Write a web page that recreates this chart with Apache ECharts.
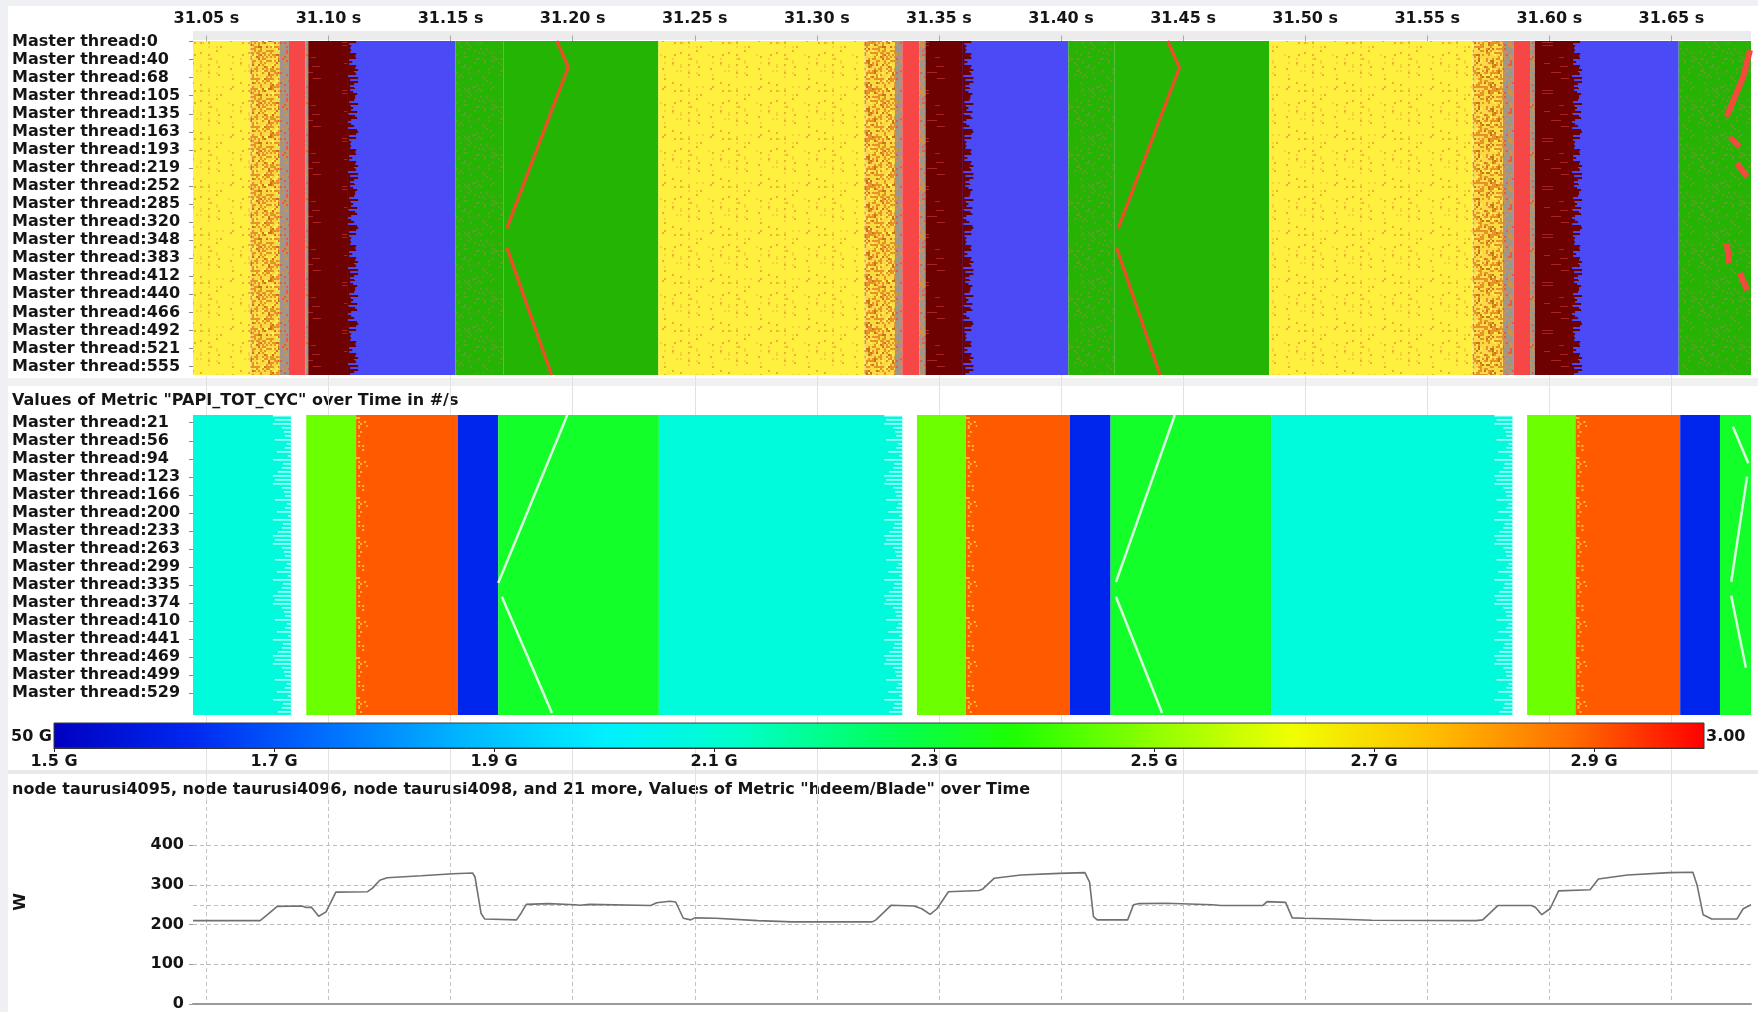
<!DOCTYPE html>
<html><head><meta charset="utf-8">
<script src="https://cdn.jsdelivr.net/npm/echarts@6/dist/echarts.min.js"></script>
<style>html,body{margin:0;padding:0;background:#fff}#c{width:1758px;height:1012px}</style>
</head><body><div id="c"></div>
<script>
// ================= DATA =================
const timeTicks = [31.05, 31.10, 31.15, 31.20, 31.25, 31.30, 31.35, 31.40, 31.45, 31.50, 31.55, 31.60, 31.65];
const timeRange = [31.0445, 31.6826];
const topThreadLabels = [0, 40, 68, 105, 135, 163, 193, 219, 252, 285, 320, 348, 383, 412, 440, 466, 492, 521, 555];
const metricThreadLabels = [21, 56, 94, 123, 166, 200, 233, 263, 299, 335, 374, 410, 441, 469, 499, 529];
const colorbarTicks = [1.5, 1.7, 1.9, 2.1, 2.3, 2.5, 2.7, 2.9];
const colorbarRange = [1.5, 3.0];
const powerTicks = [0, 100, 200, 300, 400];
const powerGuides = [100, 200, 250, 300, 400];

// master timeline: [start s, end s, function group]
const functionSpans = [
  [31.0437, 31.0680, 'Y'], [31.0680, 31.0800, 'YO'], [31.0800, 31.0838, 'GR'], [31.0838, 31.0905, 'R'],
  [31.0905, 31.0917, 'GR'], [31.0917, 31.1097, 'M'], [31.1097, 31.1520, 'B'], [31.1520, 31.1716, 'GS'],
  [31.1716, 31.2351, 'G'],
  [31.2351, 31.3195, 'Y'], [31.3195, 31.3320, 'YO'], [31.3320, 31.3350, 'GR'], [31.3350, 31.3420, 'R'],
  [31.3420, 31.3445, 'GR'], [31.3445, 31.3617, 'M'], [31.3617, 31.4030, 'B'], [31.4030, 31.4220, 'GS'],
  [31.4220, 31.4852, 'G'],
  [31.4852, 31.5686, 'Y'], [31.5686, 31.5810, 'YO'], [31.5810, 31.5855, 'GR'], [31.5855, 31.5921, 'R'],
  [31.5921, 31.5941, 'GR'], [31.5941, 31.6110, 'M'], [31.6110, 31.6530, 'B'], [31.6530, 31.6830, 'GS']
];
// ragged transitions between groups M and B: [start s, end s]
const raggedSpans = [[31.1076, 31.1126], [31.3596, 31.3646], [31.6089, 31.6139]];
// message lines in master timeline: [time s, row position]
const topLines = [
  [[31.1935, -0.03], [31.1982, 1.40], [31.1730, 10.35]],
  [[31.1730, 11.40], [31.1914, 18.47]],
  [[31.4437, -0.03], [31.4485, 1.45], [31.4234, 10.35]],
  [[31.4227, 11.40], [31.4406, 18.47]]
];
const topEdgeLines = [
  [[31.6822, 0.47], [31.6794, 1.95], [31.6726, 4.16]],
  [[31.6740, 5.29], [31.6780, 5.84]],
  [[31.6768, 6.73], [31.6810, 7.50]],
  [[31.6727, 11.16], [31.6737, 12.26]],
  [[31.6780, 12.82], [31.6810, 13.76]]
];
// PAPI_TOT_CYC rate: [start s, end s, cycles/s in G]
const metricSpans = [
  [31.0437, 31.0846, 2.08], [31.0909, 31.1113, 2.46], [31.1113, 31.1530, 2.90], [31.1530, 31.1695, 1.62],
  [31.1695, 31.2353, 2.32],
  [31.2353, 31.3350, 2.08], [31.3410, 31.3610, 2.46], [31.3610, 31.4036, 2.90], [31.4036, 31.4203, 1.62],
  [31.4203, 31.4861, 2.32],
  [31.4861, 31.5849, 2.08], [31.5909, 31.6107, 2.46], [31.6107, 31.6536, 2.90], [31.6536, 31.6699, 1.62],
  [31.6699, 31.6830, 2.32]
];
const metricStreakSpans = [[31.0765, 31.0850], [31.3267, 31.3354], [31.5765, 31.5853]];
const metricSpeckSpans = [[31.1113, 31.1160], [31.3610, 31.3657], [31.6107, 31.6154]];
const metricLines = [
  [[31.1978, -0.43], [31.1695, 8.90]],
  [[31.1710, 9.66], [31.1915, 16.12]],
  [[31.4466, -0.43], [31.4225, 8.85]],
  [[31.4225, 9.66], [31.4414, 16.12]],
  [[31.6752, 0.22], [31.6815, 2.25]],
  [[31.6810, 2.99], [31.6745, 8.83]],
  [[31.6745, 9.61], [31.6805, 13.60]]
];
// hdeem/Blade power: [time s, W]
const power = [
  [31.0445, 210], [31.0720, 210], [31.0750, 225], [31.0790, 246], [31.0890, 247], [31.0910, 243], [31.0930, 244],
  [31.0960, 221], [31.0990, 232], [31.1030, 282], [31.1160, 283], [31.1180, 292], [31.1210, 312], [31.1240, 318],
  [31.1380, 323], [31.1510, 328], [31.1590, 330], [31.1600, 320], [31.1625, 228], [31.1640, 214], [31.1770, 212],
  [31.1790, 230], [31.1810, 251], [31.1900, 253], [31.2010, 250], [31.2030, 249], [31.2070, 251], [31.2320, 248],
  [31.2344, 255], [31.2398, 259], [31.2422, 257], [31.2453, 216], [31.2484, 212], [31.2500, 217], [31.2586, 216],
  [31.2758, 210], [31.2898, 207], [31.3227, 207], [31.3242, 212], [31.3305, 249], [31.3398, 247], [31.3430, 240],
  [31.3464, 226], [31.3492, 240], [31.3539, 283], [31.3664, 286], [31.3680, 290], [31.3727, 317], [31.3836, 325],
  [31.3992, 329], [31.4098, 331], [31.4117, 307], [31.4133, 220], [31.4148, 212], [31.4273, 212], [31.4297, 250],
  [31.4320, 253], [31.4430, 254], [31.4620, 250], [31.4655, 248], [31.4826, 248], [31.4844, 258], [31.4920, 256],
  [31.4947, 217], [31.4998, 216], [31.5120, 214], [31.5273, 211], [31.5700, 210], [31.5727, 212], [31.5789, 248],
  [31.5926, 248], [31.5943, 244], [31.5969, 225], [31.6003, 240], [31.6038, 285], [31.6167, 288], [31.6201, 315],
  [31.6320, 325], [31.6492, 331], [31.6588, 332], [31.6605, 300], [31.6630, 225], [31.6665, 214], [31.6768, 214],
  [31.6794, 240], [31.6826, 250]
];

// ================= STYLE =================
const FONT = '"DejaVu Sans", sans-serif';
const TXT = '#151515';
const cbColors = ['#0000c0', '#0028f0', '#0070ff', '#00b8ff', '#00f0ff', '#00ffc8', '#00ff60',
                  '#20ff00', '#90ff00', '#f0ff00', '#ffc000', '#ff7000', '#ff0000'];
const C_MAROON = '#6d0000', C_BLUE = '#4a4af6';

function hash2(x, y, s) {
  let h = Math.imul(x + 1, 374761393) ^ Math.imul(y + 7, 668265263) ^ Math.imul(s + 3, 1274126177);
  h = Math.imul(h ^ (h >>> 13), 1274126177);
  h ^= h >>> 16;
  return (h >>> 0) / 4294967296;
}
function makeTex(w, h, base, painter) {
  const c = document.createElement('canvas'); c.width = w; c.height = h;
  const g = c.getContext('2d');
  if (base) { g.fillStyle = base; g.fillRect(0, 0, w, h); }
  painter(g, w, h);
  return c;
}
function speckle(w, h, base, seed, layers, cell, bias) {
  return makeTex(w, h, base, (g) => {
    for (let y = 0; y < h; y += cell) for (let x = 0; x < w; x += cell) {
      const r = hash2(x, y, seed) / (bias ? bias(x, y) : 1);
      let acc = 0;
      for (const [col, p] of layers) {
        acc += p;
        if (r < acc) { g.fillStyle = col; g.fillRect(x, y, cell, cell); break; }
      }
    }
  });
}
const texY = speckle(48, 48, '#ffef3e', 11, [['#f2ad34', 0.035], ['#f7d23c', 0.035]], 2, (x) => (x % 8 < 2 ? 3 : 0.35));
const texYO = speckle(48, 48, '#f9da40', 12, [['#e8922c', 0.34], ['#cf701e', 0.09], ['#fff04a', 0.08]], 2);
const texGR = speckle(48, 48, '#9c968e', 13, [['#d6903e', 0.2], ['#e65a4a', 0.1]], 2);
const texGS = speckle(48, 48, '#24b404', 14, [['#5c9e26', 0.12], ['#3fa80e', 0.08]], 2);
const texM = makeTex(48, 48, C_MAROON, (g) => {
  for (let y = 0; y < 48; y += 3) {
    const r = hash2(0, y, 15);
    if (r < 0.3) { g.fillStyle = '#a82424'; g.fillRect(Math.floor(hash2(1, y, 15) * 30), y, 4 + Math.floor(r * 30), 1); }
  }
});
const texEdge = makeTex(13, 96, null, (g) => {
  for (let y = 0; y < 96; y += 2) {
    const L = 1 + Math.floor(hash2(2, y, 16) * 11);
    g.fillStyle = C_MAROON; g.fillRect(0, y, L, 2);
    g.fillStyle = C_BLUE; g.fillRect(L, y, 13 - L, 2);
    if (hash2(3, y, 16) < 0.12) { g.fillStyle = '#c43a3a'; g.fillRect(L - 1, y, 4, 1); }
  }
});
const texStreak = makeTex(22, 60, null, (g) => {
  for (let y = 0; y < 60; y += 4) {
    const L = 3 + Math.floor(hash2(4, y, 17) * 19);
    g.fillStyle = 'rgba(246,255,255,0.9)'; g.fillRect(22 - L, y, L, 1.5);
  }
});
const texSpeck = speckle(40, 40, null, 18, [['rgba(255,200,40,0.9)', 0.16]], 2, (x) => (x < 6 ? 2 : 0.6));

const groupFill = {
  Y: {image: texY, repeat: 'repeat'},
  YO: {image: texYO, repeat: 'repeat'},
  GR: {image: texGR, repeat: 'repeat'},
  R: '#f64646',
  M: {image: texM, repeat: 'repeat'},
  B: C_BLUE,
  G: '#24b404',
  GS: {image: texGS, repeat: 'repeat'}
};

// ================= CHART =================
const chart = echarts.init(document.getElementById('c'), null, {width: 1758, height: 1012});
const L = 193, R = 7;
const boldTxt = {fontFamily: FONT, fontSize: 16, fontWeight: 'bold', color: TXT};

function spanRect(params, api) {
  const cs = params.coordSys;
  const a = api.coord([api.value(0), api.value(2)]);
  const b = api.coord([api.value(1), api.value(2)]);
  return echarts.graphic.clipRectByRect(
    {x: a[0], y: cs.y, width: b[0] - a[0], height: cs.height},
    {x: cs.x, y: cs.y, width: cs.width, height: cs.height});
}
function timeAxis(gridIndex, extra) {
  return Object.assign({
    type: 'value', gridIndex, min: timeRange[0], max: timeRange[1],
    splitNumber: 12, minInterval: 0.05, maxInterval: 0.05,
    axisLine: {show: false}, axisTick: {show: false, customValues: timeTicks},
    axisLabel: {show: false, customValues: timeTicks}, splitLine: {show: false}
  }, extra);
}

const series = [];
series.push({
  type: 'custom', xAxisIndex: 1, yAxisIndex: 1, silent: true, encode: {x: [0, 1], y: 2},
  data: functionSpans.map(s => [s[0], s[1], 0]),
  renderItem: (params, api) => {
    const r = spanRect(params, api);
    return r && {type: 'rect', shape: r, style: {fill: groupFill[functionSpans[params.dataIndex][2]]}};
  }
});
series.push({
  type: 'custom', xAxisIndex: 1, yAxisIndex: 1, silent: true, encode: {x: [0, 1], y: 2},
  data: raggedSpans.map(s => [s[0], s[1], 0]),
  renderItem: (params, api) => {
    const r = spanRect(params, api);
    return r && {type: 'rect', shape: r, style: {fill: {image: texEdge, repeat: 'repeat', x: r.x, y: r.y}}};
  }
});
topLines.forEach(seg => series.push({
  type: 'line', xAxisIndex: 1, yAxisIndex: 1, data: seg, showSymbol: false, silent: true, z: 5,
  lineStyle: {color: '#ef4d2a', width: 3.2}
}));
topEdgeLines.forEach(seg => series.push({
  type: 'line', xAxisIndex: 1, yAxisIndex: 1, data: seg, showSymbol: false, silent: true, z: 5,
  lineStyle: {color: '#f24a3c', width: 6}
}));
const metricIndex = series.length;
series.push({
  type: 'custom', xAxisIndex: 2, yAxisIndex: 2, silent: true, encode: {x: [0, 1], y: 2},
  data: metricSpans.map(s => [s[0], s[1], 0, s[2]]),
  renderItem: (params, api) => {
    const r = spanRect(params, api);
    return r && {type: 'rect', shape: r, style: {fill: api.visual('color')}};
  }
});
series.push({
  type: 'custom', xAxisIndex: 2, yAxisIndex: 2, silent: true, encode: {x: [0, 1], y: 2}, z: 3,
  data: metricStreakSpans.map(s => [s[0], s[1], 0]),
  renderItem: (params, api) => {
    const r = spanRect(params, api);
    return r && {type: 'rect', shape: r, style: {fill: {image: texStreak, repeat: 'repeat', x: r.x + r.width - 22, y: r.y}}};
  }
});
series.push({
  type: 'custom', xAxisIndex: 2, yAxisIndex: 2, silent: true, encode: {x: [0, 1], y: 2}, z: 3,
  data: metricSpeckSpans.map(s => [s[0], s[1], 0]),
  renderItem: (params, api) => {
    const r = spanRect(params, api);
    return r && {type: 'rect', shape: r, style: {fill: {image: texSpeck, repeat: 'repeat', x: r.x, y: r.y}}};
  }
});
metricLines.forEach(seg => series.push({
  type: 'line', xAxisIndex: 2, yAxisIndex: 2, data: seg, showSymbol: false, silent: true, z: 5,
  lineStyle: {color: 'rgba(232,255,232,0.95)', width: 2.5}
}));
series.push({
  type: 'custom', xAxisIndex: 3, yAxisIndex: 3, silent: true, encode: {x: [0, 1], y: 2},
  data: [[colorbarRange[0], colorbarRange[1], 0.5]],
  renderItem: (params, api) => {
    const r = spanRect(params, api);
    const stops = cbColors.map((c, i) => ({offset: i / (cbColors.length - 1), color: c}));
    return {type: 'rect', shape: r, style: {fill: new echarts.graphic.LinearGradient(0, 0, 1, 0, stops), stroke: '#3a3a3a', lineWidth: 1}};
  }
});
series.push({
  type: 'line', xAxisIndex: 4, yAxisIndex: 4, data: power, showSymbol: false, silent: true, z: 5,
  lineStyle: {color: '#707070', width: 1.6},
  markLine: {
    silent: true, symbol: 'none', label: {show: false}, animation: false,
    lineStyle: {type: [4, 3], color: '#bdbdbd', width: 1},
    data: powerGuides.map(v => ({yAxis: v}))
  }
});

const option = {
  animation: false,
  backgroundColor: '#ffffff',
  grid: [
    {left: L, right: R, top: 41, height: 759},
    {left: L, right: R, top: 41, height: 334},
    {left: L, right: R, top: 415, height: 300},
    {left: 54, right: 54, top: 723, height: 25},
    {left: L, right: R, top: 800, height: 206}
  ],
  xAxis: [
    timeAxis(0, {splitLine: {show: true, lineStyle: {color: '#e2e2e2', width: 1}}}),
    timeAxis(1, {
      position: 'top',
      axisTick: {show: true, customValues: timeTicks, length: 6, lineStyle: {color: '#aaaaaa'}},
      axisLabel: {show: true, customValues: timeTicks, margin: 14,
        formatter: v => v.toFixed(2) + ' s', ...boldTxt}
    }),
    timeAxis(2),
    {
      type: 'value', gridIndex: 3, min: colorbarRange[0], max: colorbarRange[1], position: 'bottom',
      axisLine: {show: true, lineStyle: {color: '#333', width: 1}},
      axisTick: {show: true, customValues: colorbarTicks, length: 4, lineStyle: {color: '#222'}},
      axisLabel: {customValues: colorbarTicks, margin: 6, formatter: v => v.toFixed(1) + ' G', ...boldTxt},
      splitLine: {show: false}
    },
    timeAxis(4, {
      axisLine: {show: true, onZero: false, lineStyle: {color: '#9a9a9a', width: 2}},
      splitLine: {show: true, lineStyle: {color: '#c4c4c4', type: [4, 3], width: 1}}
    })
  ],
  yAxis: [
    {type: 'value', gridIndex: 0, min: 0, max: 1, show: false},
    {
      type: 'value', gridIndex: 1, inverse: true, min: -0.03, max: 18.47,
      axisLine: {show: false}, splitLine: {show: false},
      axisTick: {show: true, customValues: topThreadLabels.map((_, i) => i), length: 4, lineStyle: {color: '#888'}},
      axisLabel: {customValues: topThreadLabels.map((_, i) => i), align: 'left', margin: 181,
        formatter: v => 'Master thread:' + topThreadLabels[Math.round(v)], ...boldTxt}
    },
    {
      type: 'value', gridIndex: 2, inverse: true, min: -0.43, max: 16.23,
      axisLine: {show: false}, splitLine: {show: false},
      axisTick: {show: true, customValues: metricThreadLabels.map((_, i) => i), length: 4, lineStyle: {color: '#888'}},
      axisLabel: {customValues: metricThreadLabels.map((_, i) => i), align: 'left', margin: 181,
        formatter: v => 'Master thread:' + metricThreadLabels[Math.round(v)], ...boldTxt}
    },
    {type: 'value', gridIndex: 3, min: 0, max: 1, show: false},
    {
      type: 'value', gridIndex: 4, min: 0, max: 514,
      name: 'W', nameLocation: 'middle', nameRotate: 90, nameGap: 164,
      nameTextStyle: {...boldTxt},
      axisLine: {show: false}, splitLine: {show: false},
      axisTick: {show: true, customValues: powerTicks, length: 4, lineStyle: {color: '#999'}},
      axisLabel: {customValues: powerTicks, margin: 9, ...boldTxt}
    }
  ],
  visualMap: [{
    type: 'continuous', show: false, min: colorbarRange[0], max: colorbarRange[1],
    dimension: 3, seriesIndex: metricIndex, inRange: {color: cbColors}
  }],
  graphic: [
    {type: 'rect', z: -10, shape: {x: 0, y: 0, width: 8, height: 1012}, style: {fill: '#eef0f3'}, silent: true},
    {type: 'rect', z: -10, shape: {x: 0, y: 0, width: 1758, height: 6}, style: {fill: '#eef0f3'}, silent: true},
    {type: 'rect', z: -10, shape: {x: L, y: 31, width: 1758 - L - R, height: 9}, style: {fill: '#ececec'}, silent: true},
    {type: 'rect', z: -10, shape: {x: 8, y: 378, width: 1750, height: 8}, style: {fill: '#f1f1f1'}, silent: true},
    {type: 'rect', z: -10, shape: {x: 8, y: 770, width: 1750, height: 4}, style: {fill: '#e9e9e9'}, silent: true},
    {type: 'text', x: 12, y: 401, silent: true, style: {text: 'Values of Metric "PAPI_TOT_CYC" over Time in #/s',
      font: 'bold 16px ' + FONT, fill: TXT, textVerticalAlign: 'middle', verticalAlign: 'middle'}},
    {type: 'text', x: 12, y: 790, silent: true, style: {text: 'node taurusi4095, node taurusi4096, node taurusi4098, and 21 more, Values of Metric "hdeem/Blade" over Time',
      font: 'bold 16px ' + FONT, fill: TXT, textVerticalAlign: 'middle', verticalAlign: 'middle'}},
    {type: 'text', x: 52, y: 737, silent: true, style: {text: '50 G', font: 'bold 16px ' + FONT, fill: TXT,
      textAlign: 'right', align: 'right', textVerticalAlign: 'middle', verticalAlign: 'middle'}},
    {type: 'text', x: 1706, y: 737, silent: true, style: {text: '3.00', font: 'bold 16px ' + FONT, fill: TXT,
      textVerticalAlign: 'middle', verticalAlign: 'middle'}}
  ],
  series
};
chart.setOption(option);
</script>
</body></html>
